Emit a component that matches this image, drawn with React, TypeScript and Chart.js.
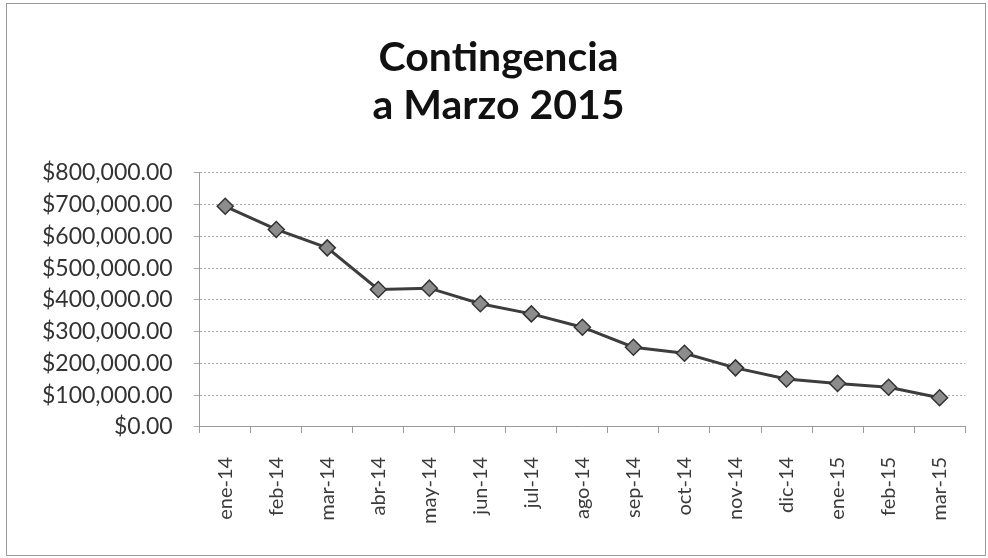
import React, { useEffect, useRef } from "react";
import { Chart, registerables } from "chart.js";

Chart.register(...registerables);

const titleLines = ["Contingencia", "a Marzo 2015"];
const months = [
  "ene-14", "feb-14", "mar-14", "abr-14", "may-14", "jun-14", "jul-14", "ago-14",
  "sep-14", "oct-14", "nov-14", "dic-14", "ene-15", "feb-15", "mar-15",
];
const contingencia = [
  695000, 622000, 564000, 433000, 437000, 388000, 356000, 314000,
  251000, 232000, 186000, 151000, 137000, 125000, 92000,
];
const yMin = 0;
const yMax = 800000;
const yStep = 100000;

const fmt = (v: number) =>
  "$" + v.toLocaleString("en-US", { minimumFractionDigits: 2, maximumFractionDigits: 2 });

export default function App() {
  const ref = useRef<HTMLCanvasElement | null>(null);

  useEffect(() => {
    document.body.style.margin = "0";
    if (!ref.current) return;
    const chart = new Chart(ref.current, {
      type: "line",
      data: {
        labels: months,
        datasets: [
          {
            label: "Contingencia",
            data: contingencia,
            borderColor: "#3d3d3d",
            borderWidth: 3,
            pointStyle: "rectRot",
            pointRadius: 8,
            pointBackgroundColor: "#8c8c8c",
            pointBorderColor: "#333333",
            pointBorderWidth: 1.5,
            tension: 0,
          },
        ],
      },
      options: {
        responsive: false,
        animation: false,
        layout: { padding: { left: 21, right: 12, top: 0, bottom: 10 } },
        plugins: {
          legend: { display: false },
          tooltip: { enabled: false },
          title: {
            display: true,
            text: titleLines,
            color: "#111111",
            font: { family: "Lato", size: 41, weight: "bold", lineHeight: 1.17 },
            padding: { top: 34, bottom: 43 },
          },
        },
        scales: {
          x: {
            offset: true,
            grid: {
              display: true,
              drawOnChartArea: false,
              offset: true,
              tickLength: 6,
              color: "#9a9a9a",
            },
            border: { color: "#9a9a9a" },
            ticks: {
              minRotation: 90,
              maxRotation: 90,
              padding: 24,
              color: "#3a3a3a",
              font: { family: "Lato", size: 20 },
            },
          },
          y: {
            min: yMin,
            max: yMax,
            grid: { color: "#ababab", tickLength: 6 },
            border: { color: "#9a9a9a", dash: [2, 2] },
            ticks: {
              stepSize: yStep,
              padding: 21,
              color: "#333333",
              font: { family: "Lato", size: 23 },
              callback: (v: any) => fmt(Number(v)),
            },
          },
        },
      },
    });
    return () => chart.destroy();
  }, []);

  return (
    <div style={{ position: "absolute", left: 0, top: 0, width: 988, height: 558, background: "#fff" }}>
      <canvas ref={ref} width={988} height={558} style={{ display: "block" }} />
      <div
        style={{
          position: "absolute",
          left: 6,
          top: 3,
          width: 980,
          height: 553,
          border: "1px solid #9a9a9a",
          boxSizing: "border-box",
          pointerEvents: "none",
        }}
      />
    </div>
  );
}
